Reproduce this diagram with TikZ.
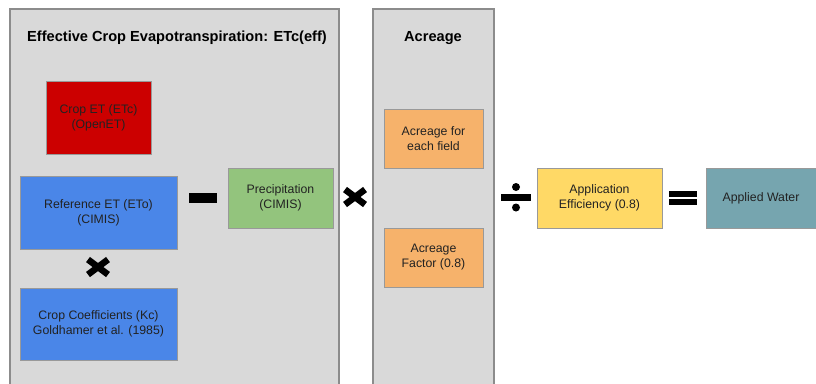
\documentclass[tikz,border=0pt]{standalone}
\usepackage{fontspec}
\setmainfont{Liberation Sans}
\definecolor{panelgray}{HTML}{D9D9D9}
\definecolor{panelline}{HTML}{8C8C8C}
\definecolor{boxline}{HTML}{999999}
\definecolor{cropred}{HTML}{CC0000}
\definecolor{refblue}{HTML}{4A86E8}
\definecolor{precgreen}{HTML}{93C47D}
\definecolor{acorange}{HTML}{F6B26B}
\definecolor{effyellow}{HTML}{FFD966}
\definecolor{waterteal}{HTML}{76A5AF}
\definecolor{txt}{HTML}{222222}
\tikzset{
  panel/.style={fill=panelgray,draw=panelline,line width=1.2pt},
  box/.style={draw=boxline,line width=0.9pt,align=center,text=txt,
    font=\fontsize{12.3}{15}\selectfont,inner sep=0pt},
  paneltitle/.style={font=\fontsize{14.6}{17}\selectfont\bfseries,text=black,inner sep=0pt},
  opsign/.style={line width=6.5pt,black,line cap=butt},
}
\begin{document}
\begin{tikzpicture}[x=1pt,y=-1pt]
\clip (0,0) rectangle (816,383);
\fill[white] (0,0) rectangle (816,383);
% panels
\draw[panel] (10,9) rectangle (339,400);
\draw[panel] (373,9) rectangle (494,400);
\node[paneltitle] (t1) at (177,38) {Effective Crop Evapotranspiration: ETc(eff)};
\node[paneltitle] (t2) at (433,38) {Acreage};
% boxes
\node[box,fill=cropred,minimum width=105pt,minimum height=73pt] (crop) at (98.5,117.5) {Crop ET (ETc)\\(OpenET)};
\node[box,fill=refblue,minimum width=157pt,minimum height=73pt] (ref) at (98.5,212.5) {Reference ET (ETo)\\(CIMIS)};
\node[box,fill=refblue,minimum width=157pt,minimum height=72pt] (kc) at (98.5,324) {Crop Coefficients (Kc)\\Goldhamer et al. (1985)};
\node[box,fill=precgreen,minimum width=105pt,minimum height=60pt] (prec) at (280.5,198) {Precipitation\\(CIMIS)};
\node[box,fill=acorange,minimum width=99pt,minimum height=59pt] (acf) at (433.5,138.5) {Acreage for\\each field};
\node[box,fill=acorange,minimum width=99pt,minimum height=59pt] (acr) at (433.5,257.5) {Acreage\\Factor (0.8)};
\node[box,fill=effyellow,minimum width=125pt,minimum height=60pt] (eff) at (599.5,198) {Application\\Efficiency (0.8)};
\node[box,fill=waterteal,minimum width=110pt,minimum height=60pt] (water) at (761,198) {Applied Water};
% operators
\coordinate (mul1) at (98,267);
\draw[opsign] ([shift={(-10,-7.5)}]mul1) -- ([shift={(10,7.5)}]mul1);
\draw[opsign] ([shift={(-10,7.5)}]mul1) -- ([shift={(10,-7.5)}]mul1);
\coordinate (minus) at (203,198);
\fill[black] ([shift={(-14,-5)}]minus) rectangle ([shift={(14,5)}]minus);
\coordinate (mul2) at (355,197);
\draw[opsign] ([shift={(-10,-7.5)}]mul2) -- ([shift={(10,7.5)}]mul2);
\draw[opsign] ([shift={(-10,7.5)}]mul2) -- ([shift={(10,-7.5)}]mul2);
\coordinate (div) at (516,197.5);
\fill[black] ([shift={(-15,-3.5)}]div) rectangle ([shift={(15,3.5)}]div);
\fill[black] ([shift={(0,-10.5)}]div) circle (4);
\fill[black] ([shift={(0,10)}]div) circle (4);
\coordinate (eq) at (683,198);
\fill[black] ([shift={(-14,-7)}]eq) rectangle ([shift={(14,-1)}]eq);
\fill[black] ([shift={(-14,1)}]eq) rectangle ([shift={(14,7)}]eq);
\end{tikzpicture}
\end{document}
